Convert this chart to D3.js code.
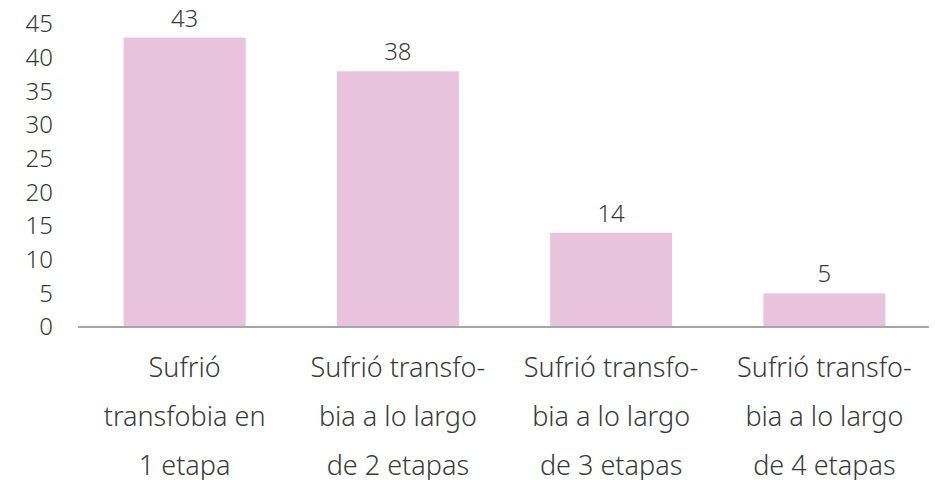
<!DOCTYPE html>
<html>
<head>
<meta charset="utf-8">
<script src="https://cdn.jsdelivr.net/npm/d3@7"></script>
<style>
  body { margin: 0; background: #fff; }
  text { font-family: "Noto Sans", "Open Sans", sans-serif; fill: #3a3a3a; }
</style>
</head>
<body>
<script>
var categories = [
    ["Sufrió", "transfobia en", "1 etapa"],
    ["Sufrió transfo-", "bia a lo largo", "de 2 etapas"],
    ["Sufrió transfo-", "bia a lo largo", "de 3 etapas"],
    ["Sufrió transfo-", "bia a lo largo", "de 4 etapas"]
];
var values = [43, 38, 14, 5];
var yTicks = [0, 5, 10, 15, 20, 25, 30, 35, 40, 45];

var width = 935, height = 480;
var plotLeft = 78, plotRight = 931, plotTop = 24.2, plotBottom = 327;

var svg = d3.select("body")
    .append("svg")
    .attr("width", width)
    .attr("height", height);

var x = d3.scaleBand()
    .domain(d3.range(values.length))
    .range([plotLeft, plotRight])
    .paddingInner(0.428)
    .paddingOuter(0.214);

var y = d3.scaleLinear()
    .domain([0, 45])
    .range([plotBottom, plotTop]);

// bars
svg.selectAll("rect.bar")
    .data(values)
    .enter()
    .append("rect")
    .attr("class", "bar")
    .attr("x", function (d, i) { return x(i); })
    .attr("y", function (d) { return y(d); })
    .attr("width", x.bandwidth())
    .attr("height", function (d) { return y(0) - y(d); })
    .attr("fill", "#e9c3dc");

// value labels
svg.selectAll("text.val")
    .data(values)
    .enter()
    .append("text")
    .attr("class", "val")
    .attr("x", function (d, i) { return x(i) + x.bandwidth() / 2; })
    .attr("y", function (d) { return y(d) - 11; })
    .attr("text-anchor", "middle")
    .attr("font-size", "24px")
    .attr("font-weight", 300)
    .text(function (d) { return d; });

// y axis (labels only)
var yAxis = d3.axisLeft(y)
    .tickValues(yTicks)
    .tickSize(0)
    .tickPadding(0);

var gy = svg.append("g")
    .attr("transform", "translate(53,0)")
    .call(yAxis)
    .attr("font-family", null)
    .attr("font-size", null);
gy.select(".domain").remove();
gy.selectAll("text")
    .attr("font-size", "24px")
    .attr("font-weight", 300)
    .attr("fill", null);

// baseline
svg.append("line")
    .attr("x1", plotLeft)
    .attr("x2", plotRight - 2)
    .attr("y1", y(0))
    .attr("y2", y(0))
    .attr("stroke", "#a6a6a6")
    .attr("stroke-width", 2);

// category labels
var cats = svg.selectAll("text.cat")
    .data(categories)
    .enter()
    .append("text")
    .attr("class", "cat")
    .attr("text-anchor", "middle")
    .attr("font-size", "27px")
    .attr("font-weight", 300);

cats.selectAll("tspan")
    .data(function (d, i) { return d.map(function (s) { return { s: s, i: i }; }); })
    .enter()
    .append("tspan")
    .attr("x", function (d) { return x(d.i) + x.bandwidth() / 2; })
    .attr("y", function (d, j) { return 377 + j * 49; })
    .text(function (d) { return d.s; });
</script>
</body>
</html>
